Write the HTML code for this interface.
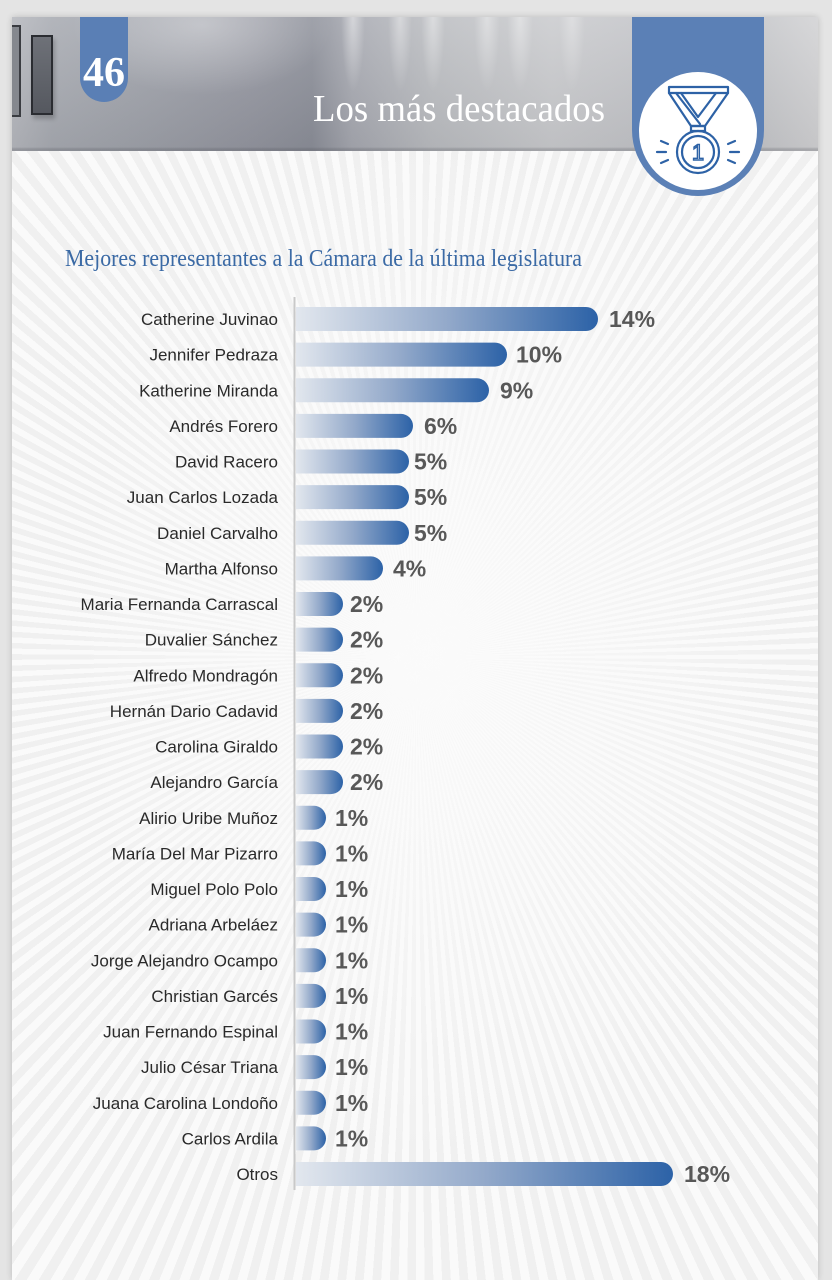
<!DOCTYPE html>
<html><head><meta charset="utf-8">
<style>
html,body{margin:0;padding:0}
body{width:832px;height:1280px;overflow:hidden;background:#e4e4e4;position:relative}
.page{position:absolute;left:12px;top:17px;width:806px;height:1263px;
background:
radial-gradient(ellipse 360px 520px at 52% 50%, rgba(251,251,251,.95), rgba(251,251,251,0) 100%),
repeating-conic-gradient(from 0deg at 404px 640px, #fafafa 0deg 0.8deg, #f0f0f0 0.8deg 1.6deg);
box-shadow:0 0 6px rgba(0,0,0,.18)}
.hdr{position:absolute;left:12px;top:17px;width:806px;height:134px;
background:
linear-gradient(180deg, rgba(80,82,90,0) 0, rgba(80,82,90,0) 130px, rgba(80,82,90,.25) 132px, rgba(80,82,90,.25) 134px),
radial-gradient(ellipse 12px 75px at 341px 0, rgba(255,255,255,.45), rgba(255,255,255,0)),
radial-gradient(ellipse 12px 75px at 388px 0, rgba(255,255,255,.4), rgba(255,255,255,0)),
radial-gradient(ellipse 12px 75px at 421px 0, rgba(255,255,255,.4), rgba(255,255,255,0)),
radial-gradient(ellipse 13px 75px at 475px 0, rgba(255,255,255,.38), rgba(255,255,255,0)),
radial-gradient(ellipse 13px 75px at 508px 0, rgba(255,255,255,.38), rgba(255,255,255,0)),
radial-gradient(ellipse 13px 75px at 560px 0, rgba(255,255,255,.3), rgba(255,255,255,0)),
radial-gradient(ellipse 130px 70px at 190px 8px, rgba(255,255,255,.35), rgba(255,255,255,0)),
linear-gradient(180deg, rgba(255,255,255,.12), rgba(0,0,0,.06)),
linear-gradient(90deg, #b6b8be 0px, #a8abb2 40px, #a0a3ab 120px, #9496a0 240px, #8c8f99 300px, #a7a9b1 340px, #bbbdc1 420px, #cacbce 540px, #c4c5c9 620px, #b8b9be 700px, #c8c9cc 760px, #d2d2d4 806px)}
.f1{position:absolute;left:12px;top:25px;width:9px;height:92px;background:#85888e;border:2px solid #3a3c41;border-left:none;box-sizing:border-box}
.f2{position:absolute;left:31px;top:35px;width:22px;height:80px;background:linear-gradient(180deg,#6e7178,#55585f);border:2px solid #2a2c31;box-sizing:border-box;box-shadow:2px 4px 4px rgba(0,0,0,.2)}
svg{position:absolute;left:0;top:0}
</style></head>
<body>
<div class="page"></div>
<div class="hdr"></div>
<div class="f1"></div>
<div class="f2"></div>
<svg width="832" height="1280" viewBox="0 0 832 1280" xmlns="http://www.w3.org/2000/svg">
<defs>
<linearGradient id="bg" x1="0" y1="0" x2="1" y2="0">
<stop offset="0" stop-color="#e2e7ee"/>
<stop offset="0.5" stop-color="#93a9ca"/>
<stop offset="1" stop-color="#2c62a7"/>
</linearGradient>
</defs>
<rect x="80" y="17" width="48" height="61" fill="#5a7fb5"/>
<circle cx="104" cy="78" r="24" fill="#5a7fb5"/>
<text x="104" y="86" text-anchor="middle" font-family="Liberation Serif, serif" font-weight="bold" font-size="42" fill="#ffffff">46</text>
<text x="313" y="121" font-family="Liberation Serif, serif" font-size="38" fill="#ffffff" textLength="292" lengthAdjust="spacingAndGlyphs">Los más destacados</text>
<rect x="632" y="17" width="132" height="113" fill="#5b80b6"/>
<circle cx="698" cy="130" r="66" fill="#5b80b6"/>
<circle cx="698" cy="131" r="59" fill="#ffffff"/>
<g fill="none" stroke="#2d62a6" stroke-width="2.2" stroke-linejoin="round" stroke-linecap="round">
<path d="M669,87H728V93L705,126H691L669,93Z"/>
<path d="M669,93H728"/>
<path d="M681,93L698,117L716,93"/>
<path d="M676,93L700,124"/>
<rect x="691" y="126" width="14" height="5"/>
<circle cx="698" cy="152" r="21"/>
<circle cx="698" cy="152" r="16"/>
<path d="M657,152H666M661,141L668,144M661,163L668,160M730,152H739M728,144L735,141M728,160L735,163"/>
</g>
<text x="698" y="160" text-anchor="middle" font-family="Liberation Sans, sans-serif" font-size="22" fill="none" stroke="#2d62a6" stroke-width="1.4">1</text>
<text x="65" y="266" font-family="Liberation Serif, serif" font-size="24" fill="#3b6aa5" textLength="517" lengthAdjust="spacingAndGlyphs">Mejores representantes a la Cámara de la última legislatura</text>
<line x1="294.5" y1="297" x2="294.5" y2="1190" stroke="#c9c9c9" stroke-width="2"/>
<g font-family="Liberation Sans, sans-serif">
<g transform="translate(0,319)"><path d="M296,-12H586A12,12 0 0 1 586,12H296Z" fill="url(#bg)"/><text x="278" y="6" text-anchor="end" font-size="17" fill="#2a2a2a">Catherine Juvinao</text><text x="609" y="8" font-size="23" font-weight="bold" fill="#585858">14%</text></g>
<g transform="translate(0,354.6)"><path d="M296,-12H495A12,12 0 0 1 495,12H296Z" fill="url(#bg)"/><text x="278" y="6" text-anchor="end" font-size="17" fill="#2a2a2a">Jennifer Pedraza</text><text x="516" y="8" font-size="23" font-weight="bold" fill="#585858">10%</text></g>
<g transform="translate(0,390.3)"><path d="M296,-12H477A12,12 0 0 1 477,12H296Z" fill="url(#bg)"/><text x="278" y="6" text-anchor="end" font-size="17" fill="#2a2a2a">Katherine Miranda</text><text x="500" y="8" font-size="23" font-weight="bold" fill="#585858">9%</text></g>
<g transform="translate(0,425.9)"><path d="M296,-12H401A12,12 0 0 1 401,12H296Z" fill="url(#bg)"/><text x="278" y="6" text-anchor="end" font-size="17" fill="#2a2a2a">Andrés Forero</text><text x="424" y="8" font-size="23" font-weight="bold" fill="#585858">6%</text></g>
<g transform="translate(0,461.5)"><path d="M296,-12H397A12,12 0 0 1 397,12H296Z" fill="url(#bg)"/><text x="278" y="6" text-anchor="end" font-size="17" fill="#2a2a2a">David Racero</text><text x="414" y="8" font-size="23" font-weight="bold" fill="#585858">5%</text></g>
<g transform="translate(0,497.1)"><path d="M296,-12H397A12,12 0 0 1 397,12H296Z" fill="url(#bg)"/><text x="278" y="6" text-anchor="end" font-size="17" fill="#2a2a2a">Juan Carlos Lozada</text><text x="414" y="8" font-size="23" font-weight="bold" fill="#585858">5%</text></g>
<g transform="translate(0,532.8)"><path d="M296,-12H397A12,12 0 0 1 397,12H296Z" fill="url(#bg)"/><text x="278" y="6" text-anchor="end" font-size="17" fill="#2a2a2a">Daniel Carvalho</text><text x="414" y="8" font-size="23" font-weight="bold" fill="#585858">5%</text></g>
<g transform="translate(0,568.4)"><path d="M296,-12H371A12,12 0 0 1 371,12H296Z" fill="url(#bg)"/><text x="278" y="6" text-anchor="end" font-size="17" fill="#2a2a2a">Martha Alfonso</text><text x="393" y="8" font-size="23" font-weight="bold" fill="#585858">4%</text></g>
<g transform="translate(0,604)"><path d="M296,-12H331A12,12 0 0 1 331,12H296Z" fill="url(#bg)"/><text x="278" y="6" text-anchor="end" font-size="17" fill="#2a2a2a">Maria Fernanda Carrascal</text><text x="350" y="8" font-size="23" font-weight="bold" fill="#585858">2%</text></g>
<g transform="translate(0,639.6)"><path d="M296,-12H331A12,12 0 0 1 331,12H296Z" fill="url(#bg)"/><text x="278" y="6" text-anchor="end" font-size="17" fill="#2a2a2a">Duvalier Sánchez</text><text x="350" y="8" font-size="23" font-weight="bold" fill="#585858">2%</text></g>
<g transform="translate(0,675.3)"><path d="M296,-12H331A12,12 0 0 1 331,12H296Z" fill="url(#bg)"/><text x="278" y="6" text-anchor="end" font-size="17" fill="#2a2a2a">Alfredo Mondragón</text><text x="350" y="8" font-size="23" font-weight="bold" fill="#585858">2%</text></g>
<g transform="translate(0,710.9)"><path d="M296,-12H331A12,12 0 0 1 331,12H296Z" fill="url(#bg)"/><text x="278" y="6" text-anchor="end" font-size="17" fill="#2a2a2a">Hernán Dario Cadavid</text><text x="350" y="8" font-size="23" font-weight="bold" fill="#585858">2%</text></g>
<g transform="translate(0,746.5)"><path d="M296,-12H331A12,12 0 0 1 331,12H296Z" fill="url(#bg)"/><text x="278" y="6" text-anchor="end" font-size="17" fill="#2a2a2a">Carolina Giraldo</text><text x="350" y="8" font-size="23" font-weight="bold" fill="#585858">2%</text></g>
<g transform="translate(0,782.1)"><path d="M296,-12H331A12,12 0 0 1 331,12H296Z" fill="url(#bg)"/><text x="278" y="6" text-anchor="end" font-size="17" fill="#2a2a2a">Alejandro García</text><text x="350" y="8" font-size="23" font-weight="bold" fill="#585858">2%</text></g>
<g transform="translate(0,817.8)"><path d="M296,-12H314A12,12 0 0 1 314,12H296Z" fill="url(#bg)"/><text x="278" y="6" text-anchor="end" font-size="17" fill="#2a2a2a">Alirio Uribe Muñoz</text><text x="335" y="8" font-size="23" font-weight="bold" fill="#585858">1%</text></g>
<g transform="translate(0,853.4)"><path d="M296,-12H314A12,12 0 0 1 314,12H296Z" fill="url(#bg)"/><text x="278" y="6" text-anchor="end" font-size="17" fill="#2a2a2a">María Del Mar Pizarro</text><text x="335" y="8" font-size="23" font-weight="bold" fill="#585858">1%</text></g>
<g transform="translate(0,889)"><path d="M296,-12H314A12,12 0 0 1 314,12H296Z" fill="url(#bg)"/><text x="278" y="6" text-anchor="end" font-size="17" fill="#2a2a2a">Miguel Polo Polo</text><text x="335" y="8" font-size="23" font-weight="bold" fill="#585858">1%</text></g>
<g transform="translate(0,924.6)"><path d="M296,-12H314A12,12 0 0 1 314,12H296Z" fill="url(#bg)"/><text x="278" y="6" text-anchor="end" font-size="17" fill="#2a2a2a">Adriana Arbeláez</text><text x="335" y="8" font-size="23" font-weight="bold" fill="#585858">1%</text></g>
<g transform="translate(0,960.3)"><path d="M296,-12H314A12,12 0 0 1 314,12H296Z" fill="url(#bg)"/><text x="278" y="6" text-anchor="end" font-size="17" fill="#2a2a2a">Jorge Alejandro Ocampo</text><text x="335" y="8" font-size="23" font-weight="bold" fill="#585858">1%</text></g>
<g transform="translate(0,995.9)"><path d="M296,-12H314A12,12 0 0 1 314,12H296Z" fill="url(#bg)"/><text x="278" y="6" text-anchor="end" font-size="17" fill="#2a2a2a">Christian Garcés</text><text x="335" y="8" font-size="23" font-weight="bold" fill="#585858">1%</text></g>
<g transform="translate(0,1031.5)"><path d="M296,-12H314A12,12 0 0 1 314,12H296Z" fill="url(#bg)"/><text x="278" y="6" text-anchor="end" font-size="17" fill="#2a2a2a">Juan Fernando Espinal</text><text x="335" y="8" font-size="23" font-weight="bold" fill="#585858">1%</text></g>
<g transform="translate(0,1067.1)"><path d="M296,-12H314A12,12 0 0 1 314,12H296Z" fill="url(#bg)"/><text x="278" y="6" text-anchor="end" font-size="17" fill="#2a2a2a">Julio César Triana</text><text x="335" y="8" font-size="23" font-weight="bold" fill="#585858">1%</text></g>
<g transform="translate(0,1102.8)"><path d="M296,-12H314A12,12 0 0 1 314,12H296Z" fill="url(#bg)"/><text x="278" y="6" text-anchor="end" font-size="17" fill="#2a2a2a">Juana Carolina Londoño</text><text x="335" y="8" font-size="23" font-weight="bold" fill="#585858">1%</text></g>
<g transform="translate(0,1138.4)"><path d="M296,-12H314A12,12 0 0 1 314,12H296Z" fill="url(#bg)"/><text x="278" y="6" text-anchor="end" font-size="17" fill="#2a2a2a">Carlos Ardila</text><text x="335" y="8" font-size="23" font-weight="bold" fill="#585858">1%</text></g>
<g transform="translate(0,1174)"><path d="M296,-12H661A12,12 0 0 1 661,12H296Z" fill="url(#bg)"/><text x="278" y="6" text-anchor="end" font-size="17" fill="#2a2a2a">Otros</text><text x="684" y="8" font-size="23" font-weight="bold" fill="#585858">18%</text></g>
</g>
</svg>
</body></html>
